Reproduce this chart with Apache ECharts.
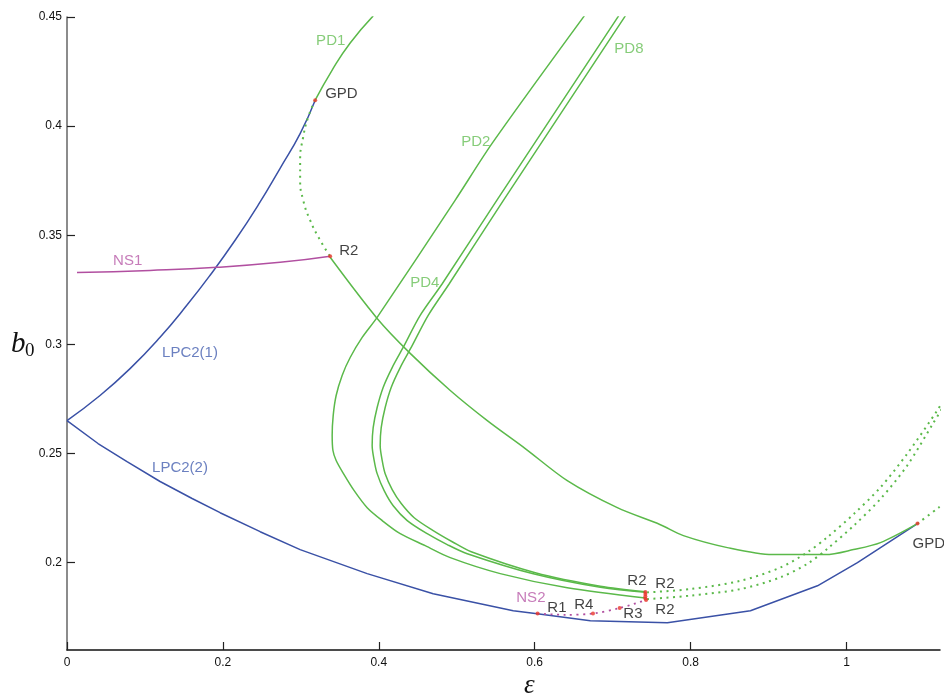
<!DOCTYPE html>
<html><head><meta charset="utf-8">
<script src="https://cdn.jsdelivr.net/npm/echarts@6/dist/echarts.min.js"></script>
<style>html,body{margin:0;padding:0;background:#fff}#c{width:944px;height:698px}</style>
</head><body><div id="c"></div>
<script>
// ---- data ----
const xTicks = [0, 0.2, 0.4, 0.6, 0.8, 1];
const yTicks = [0.2, 0.25, 0.3, 0.35, 0.4, 0.45];

const lpc2_1 = [[0,0.2651],[0.0424,0.2766],[0.0809,0.2889],[0.1194,0.3033],[0.1537,0.3179],[0.1836,0.3317],[0.2157,0.3477],[0.2452,0.3638],[0.2734,0.3807],[0.2991,0.3966],[0.3184,0.4119]];
const lpc2_2 = [[0,0.2651],[0.0398,0.2546],[0.077,0.2463],[0.1194,0.2372],[0.1605,0.2294],[0.1964,0.2229],[0.2478,0.2142],[0.2991,0.2060],[0.3851,0.1950],[0.4698,0.1858],[0.5725,0.1780],[0.6033,0.1766],[0.6714,0.1734],[0.7702,0.1725],[0.8768,0.1780],[0.9628,0.1894],[1.0141,0.2000],[1.0911,0.2179]];
const ns1 = [[0.0128,0.3330],[0.1065,0.3339],[0.1926,0.3353],[0.2734,0.3376],[0.3376,0.3404]];
const ns2 = [[0.6037,0.1767],[0.6393,0.1761],[0.6748,0.1767],[0.7090,0.1792],[0.7429,0.1829]];
const pd1Solid = [[0.3184,0.4119],[0.3402,0.4257],[0.3633,0.4381],[0.3928,0.4505]];
const pd1Dotted = [[0.3184,0.4119],[0.3094,0.4041],[0.3030,0.3950],[0.2991,0.3844],[0.2991,0.3752],[0.3030,0.3661],[0.3119,0.3569],[0.3248,0.3477],[0.3376,0.3404]];
const pd1Lower = [[0.3376,0.3399],[0.3979,0.3119],[0.4403,0.2959],[0.4917,0.2789],[0.5392,0.2651],[0.5879,0.2523],[0.6418,0.2376],[0.7060,0.2252],[0.7612,0.2174],[0.7908,0.2124],[0.8472,0.2069],[0.9050,0.2037],[0.9730,0.2037],[1.0090,0.2060],[1.0436,0.2092],[1.0911,0.2179]];
const pd1Tail = [[1.0911,0.2179],[1.1181,0.2252],[1.125,0.2272]];
const pd2 = [[0.6637,0.4505],[0.5456,0.3922],[0.4981,0.3661],[0.3979,0.3124],[0.3787,0.3032],[0.3633,0.2940],[0.3530,0.2858],[0.3453,0.2766],[0.3415,0.2674],[0.3402,0.2583],[0.3412,0.2514],[0.3453,0.2468],[0.3547,0.2408],[0.3684,0.2330],[0.3851,0.2252],[0.4044,0.2193],[0.4275,0.2133],[0.4596,0.2078],[0.4917,0.2023],[0.5558,0.1950],[0.6418,0.1885],[0.7420,0.1838]];
const pd4 = [[0.7077,0.4505],[0.5516,0.3661],[0.4814,0.3278],[0.4531,0.3133],[0.4313,0.2986],[0.4172,0.2894],[0.4056,0.2803],[0.3979,0.2711],[0.3928,0.2619],[0.3915,0.2537],[0.3941,0.2468],[0.3979,0.2408],[0.4069,0.2330],[0.4185,0.2261],[0.4365,0.2193],[0.4621,0.2133],[0.4878,0.2083],[0.5135,0.2041],[0.5982,0.1949],[0.6842,0.1887],[0.7420,0.1864]];
const pd8 = [[0.7163,0.4505],[0.5601,0.3661],[0.4904,0.3278],[0.4634,0.3133],[0.4416,0.2986],[0.4275,0.2894],[0.4159,0.2803],[0.4082,0.2711],[0.4031,0.2619],[0.4018,0.2537],[0.4044,0.2468],[0.4082,0.2408],[0.4172,0.2335],[0.4288,0.2271],[0.4454,0.2206],[0.4698,0.2147],[0.4942,0.2096],[0.5186,0.2050],[0.6008,0.1954],[0.6842,0.1892],[0.7420,0.1867]];
const pdUpperDotted = [[0.7442,0.1864],[0.7997,0.1879],[0.8639,0.1917],[0.9153,0.1978],[0.9495,0.2047],[0.9752,0.2116],[1.0094,0.2223],[1.0436,0.2345],[1.0779,0.2499],[1.1164,0.2697],[1.125,0.2750]];
const pdLowerDotted = [[0.7442,0.1833],[0.7997,0.1849],[0.8639,0.1879],[0.9153,0.1933],[0.9495,0.1994],[0.9752,0.2063],[1.0094,0.2170],[1.0436,0.2292],[1.0779,0.2445],[1.1108,0.2636],[1.125,0.2720]];
const bifPoints = [[0.3184,0.4119],[0.3376,0.3404],[0.7420,0.1866],[0.7420,0.1856],[0.7420,0.1846],[0.7420,0.1836],[0.6037,0.1767],[0.6748,0.1767],[0.7090,0.1792],[0.7429,0.1829],[1.0911,0.2179]];
const labelText = ['PD1','GPD','PD2','PD8','R2','NS1','PD4','LPC2(1)','LPC2(2)','GPD','R2','R2','NS2','R1','R4','R3','R2'];
const labelAt = [[0.3196,0.4390],[0.3312,0.4147],[0.5058,0.3927],[0.7022,0.4353],[0.3492,0.3427],[0.0591,0.3385],[0.4403,0.3284],[0.1220,0.2963],[0.1091,0.2436],[1.0847,0.2087],[0.7189,0.1917],[0.7548,0.1904],[0.5764,0.1839],[0.6162,0.1794],[0.6508,0.1807],[0.7137,0.1766],[0.7548,0.1784]];
const labelKind = ['g','k','g','g','k','m','g','b','b','k','k','k','m','k','k','k','k'];

// ---- styles ----
const GREEN = '#5bb94a', BLUE = '#3a51a6', MAG = '#b14fa0', RED = '#e8362c';
const kindColor = {g:'#68bf58', k:'#111', m:'#b85aa8', b:'#4660b0'};
const FONT = 'Liberation Sans, Arial, Helvetica, sans-serif';

function line(data, color, dotted, width, smooth) {
  return {
    type: 'line', data: data, symbol: 'none', smooth: smooth === undefined ? 0.3 : smooth, silent: true, z: 2,
    lineStyle: { color: color, width: width || 1.5, type: dotted ? [2, 4.5] : 'solid', cap: 'butt' }
  };
}

const chart = echarts.init(document.getElementById('c'), null, {renderer: 'canvas'});
chart.setOption({
  animation: false,
  backgroundColor: '#fff',
  grid: { left: 67, right: 4, top: 17, bottom: 48, outerBoundsMode: 'none' },
  xAxis: {
    type: 'value', min: 0, max: 1.12,
    axisLine: { show: true, lineStyle: { color: '#111', width: 1.5 } },
    axisTick: { show: true, inside: true, length: 8, customValues: xTicks, lineStyle: { color: '#222', width: 1.2 } },
    axisLabel: { customValues: xTicks, color: '#111', fontSize: 12, fontFamily: FONT, margin: 7, formatter: v => String(v) },
    splitLine: { show: false }
  },
  yAxis: {
    type: 'value', min: 0.16, max: 0.45,
    axisLine: { show: true, lineStyle: { color: '#666', width: 1.5 } },
    axisTick: { show: true, inside: true, length: 8, customValues: yTicks, lineStyle: { color: '#222', width: 1.2 } },
    axisLabel: { customValues: yTicks, color: '#111', fontSize: 12, fontFamily: FONT, margin: 5, formatter: v => String(v) },
    splitLine: { show: false }
  },
  graphic: [
    { type: 'text', left: 11, top: 330, style: { text: 'b', font: 'italic 29px "Liberation Serif", "Times New Roman", serif', fill: '#111' } },
    { type: 'text', left: 25, top: 342, style: { text: '0', font: '19px "Liberation Serif", "Times New Roman", serif', fill: '#111' } },
    { type: 'text', left: 524, top: 672, style: { text: 'ε', font: 'italic 27px "Liberation Serif", "Times New Roman", serif', fill: '#111' } }
  ],
  series: [
    line(lpc2_1, BLUE, false, 1.5, 0.5), line(lpc2_2, BLUE, false, 1.5, false),
    line(ns1, MAG, false, 1.5, 0.5), line(ns2, MAG, true, 1.8),
    line(pd1Solid, GREEN, false, 1.5, 0.5), line(pd1Dotted, GREEN, true, 2, 0.5), line(pd1Lower, GREEN, false, 1.5, 0.3), line(pd1Tail, GREEN, true, 2),
    line(pd2, GREEN), line(pd4, GREEN), line(pd8, GREEN),
    line(pdUpperDotted, GREEN, true, 2), line(pdLowerDotted, GREEN, true, 2),
    { type: 'scatter', data: bifPoints, symbolSize: 4, itemStyle: { color: RED }, silent: true, z: 5 },
    {
      type: 'scatter', silent: true, z: 6, symbolSize: 0.01, itemStyle: { color: 'rgba(0,0,0,0)' },
      data: labelText.map((t, i) => ({ value: labelAt[i], name: t, label: { color: kindColor[labelKind[i]] } })),
      label: { show: true, position: 'right', distance: 0, formatter: p => p.name, fontSize: 15, fontFamily: FONT, align: 'left', verticalAlign: 'middle' }
    }
  ]
});
</script></body></html>
